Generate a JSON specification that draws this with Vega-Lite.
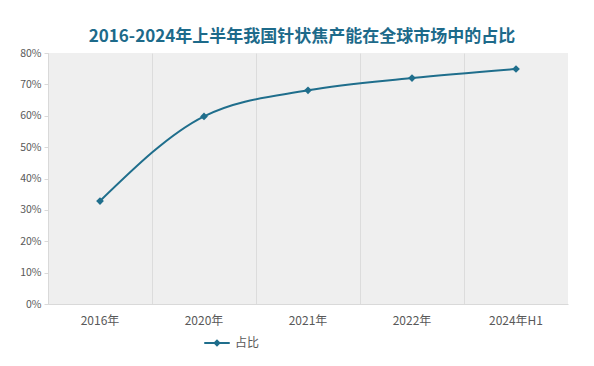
{
  "$schema": "https://vega.github.io/schema/vega-lite/v6.json",
  "autosize": {"type": "none"},
  "padding": {"left": 48, "top": 53, "right": 26, "bottom": 62},
  "width": 520,
  "height": 251,
  "background": "#ffffff",
  "title": {
    "text": "2016-2024年上半年我国针状焦产能在全球市场中的占比",
    "font": "Noto Sans CJK SC",
    "fontSize": 17,
    "fontWeight": "bold",
    "color": "#1d6a8a",
    "anchor": "middle",
    "dx": -6,
    "offset": 2
  },
  "config": {
    "view": {"fill": "#efefef", "stroke": null},
    "font": "Noto Sans CJK SC"
  },
  "data": {
    "values": [
      {"year": "2016年", "value": 0.328, "s": "占比"},
      {"year": "2020年", "value": 0.598, "s": "占比"},
      {"year": "2021年", "value": 0.681, "s": "占比"},
      {"year": "2022年", "value": 0.72, "s": "占比"},
      {"year": "2024年H1", "value": 0.749, "s": "占比"}
    ]
  },
  "encoding": {
    "x": {
      "field": "year",
      "type": "nominal",
      "sort": null,
      "scale": {"type": "band", "paddingInner": 0, "paddingOuter": 0},
      "axis": {
        "title": null,
        "labelAngle": 0,
        "labelFontSize": 12,
        "labelColor": "#595959",
        "labelPadding": 11,
        "ticks": false,
        "domainColor": "#d9d9d9",
        "grid": true,
        "gridColor": "#dcdcdc",
        "bandPosition": 0,
        "labelOverlap": false
      }
    },
    "y": {
      "field": "value",
      "type": "quantitative",
      "scale": {"domain": [0, 0.8]},
      "axis": {
        "title": null,
        "format": ".0%",
        "values": [0, 0.1, 0.2, 0.3, 0.4, 0.5, 0.6, 0.7, 0.8],
        "labelOverlap": false,
        "labelFontSize": 10.5,
        "labelColor": "#595959",
        "labelPadding": 3,
        "tickSize": 4,
        "tickColor": "#d9d9d9",
        "domainColor": "#d9d9d9",
        "grid": false
      }
    },
    "color": {
      "field": "s",
      "type": "nominal",
      "scale": {"range": ["#1f6e8c"]},
      "legend": {
        "title": null,
        "orient": "none",
        "legendX": 155,
        "legendY": 276,
        "symbolType": "M-1,0H-0.18M-0.18,0L0,-0.18L0.18,0L0,0.18ZM0.18,0H1",
        "symbolSize": 650,
        "symbolStrokeWidth": 2,
        "symbolStrokeColor": "#1f6e8c",
        "symbolFillColor": "#1f6e8c",
        "labelFontSize": 12,
        "labelColor": "#595959",
        "labelOffset": 4
      }
    }
  },
  "layer": [
    {"mark": {"type": "line", "interpolate": "monotone", "strokeWidth": 2}},
    {"mark": {"type": "point", "shape": "diamond", "filled": true, "size": 60, "opacity": 1}}
  ]
}
